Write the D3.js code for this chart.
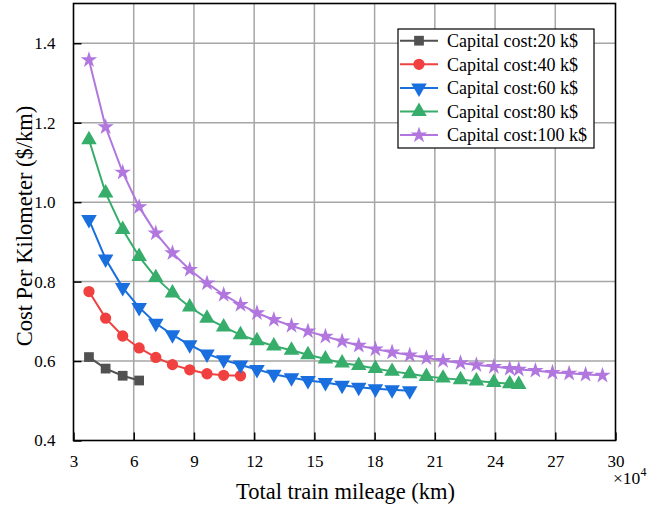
<!DOCTYPE html>
<html>
<head>
<meta charset="utf-8">
<script src="https://cdn.jsdelivr.net/npm/d3@7"></script>
<style>
  html, body { margin: 0; padding: 0; background: #fff; }
  svg { display: block; }
</style>
</head>
<body>
<svg id="chart" width="662" height="508"></svg>
<script>
// Total train mileage (×10^4 km), shared by all series
const mileage = [3.77, 4.60, 5.45, 6.27, 7.10, 7.93, 8.79, 9.65, 10.48, 11.32,
  12.14, 12.98, 13.86, 14.68, 15.55, 16.38, 17.21, 18.04, 18.87, 19.75,
  20.58, 21.41, 22.28, 23.07, 23.94, 24.73, 25.18, 26.01, 26.86, 27.69, 28.51, 29.35];

// Cost per kilometer ($/km) for each capital cost level
const cost20 = [0.610, 0.581, 0.563, 0.551];
const cost40 = [0.775, 0.708, 0.663, 0.633, 0.609, 0.591, 0.578, 0.568, 0.564, 0.563];
const cost60 = [0.956, 0.857, 0.785, 0.735, 0.695, 0.666, 0.641, 0.618, 0.603, 0.590,
  0.579, 0.567, 0.558, 0.551, 0.546, 0.539, 0.534, 0.530, 0.528, 0.525];
const cost80 = [1.157, 1.023, 0.931, 0.863, 0.810, 0.771, 0.736, 0.708, 0.686, 0.666,
  0.651, 0.638, 0.627, 0.616, 0.605, 0.595, 0.589, 0.581, 0.574, 0.568,
  0.561, 0.557, 0.553, 0.550, 0.546, 0.543, 0.541];
const cost100 = [1.358, 1.189, 1.075, 0.988, 0.922, 0.872, 0.830, 0.796, 0.767, 0.742,
  0.721, 0.704, 0.689, 0.675, 0.662, 0.650, 0.639, 0.630, 0.622, 0.615,
  0.608, 0.601, 0.595, 0.590, 0.586, 0.581, 0.579, 0.576, 0.571, 0.569, 0.566, 0.564];

const seriesNames = ["Capital cost:20 k$", "Capital cost:40 k$", "Capital cost:60 k$",
  "Capital cost:80 k$", "Capital cost:100 k$"];
const seriesValues = [cost20, cost40, cost60, cost80, cost100];
const seriesColors = ["#515151", "#F14040", "#1A6FDF", "#37AD6B", "#B177DE"];

const xTicks = [3, 6, 9, 12, 15, 18, 21, 24, 27, 30];
const yTicks = [0.4, 0.6, 0.8, 1.0, 1.2, 1.4];

const FONT = "'Liberation Serif', 'Times New Roman', 'DejaVu Serif', serif";

const margin = { left: 73.5, right: 46.5, top: 3.5, bottom: 67.5 };
const W = 662, H = 508;
const iw = W - margin.left - margin.right;
const ih = H - margin.top - margin.bottom;

const svg = d3.select("#chart");
const g = svg.append("g").attr("transform", `translate(${margin.left},${margin.top})`);

const x = d3.scaleLinear().domain([3, 30]).range([0, iw]);
const y = d3.scaleLinear().domain([0.4, 1.5]).range([ih, 0]);

// grid
g.append("g").selectAll("line").data(xTicks.slice(1, -1)).join("line")
  .attr("x1", d => x(d)).attr("x2", d => x(d)).attr("y1", 0).attr("y2", ih)
  .attr("stroke", "#a6a6a6").attr("stroke-width", 1.5);
g.append("g").selectAll("line").data(yTicks.slice(1)).join("line")
  .attr("x1", 0).attr("x2", iw).attr("y1", d => y(d)).attr("y2", d => y(d))
  .attr("stroke", "#a6a6a6").attr("stroke-width", 1.5);

// axes (ticks point inward)
const xAxis = g.append("g").attr("transform", `translate(0,${ih})`)
  .call(d3.axisBottom(x).tickValues(xTicks).tickSizeInner(-8).tickSizeOuter(0).tickPadding(14).tickFormat(d3.format("d")));
const yAxis = g.append("g")
  .call(d3.axisLeft(y).tickValues(yTicks).tickSizeInner(-8).tickSizeOuter(0).tickPadding(18).tickFormat(d3.format(".1f")));
[xAxis, yAxis].forEach(a => {
  a.attr("font-family", FONT).attr("font-size", 17);
  a.select(".domain").remove();
  a.selectAll(".tick line").attr("stroke", "#000").attr("stroke-width", 1.5);
  a.selectAll(".tick text").attr("fill", "#000");
});

// frame
g.append("rect").attr("x", 0).attr("y", 0).attr("width", iw).attr("height", ih)
  .attr("fill", "none").attr("stroke", "#000").attr("stroke-width", 1.6);

// series
const symbols = [
  { type: d3.symbolSquare, size: 95, rot: 0 },
  { type: d3.symbolCircle, size: 100, rot: 0 },
  { type: d3.symbolTriangle, size: 105, rot: 180 },
  { type: d3.symbolTriangle, size: 105, rot: 0 },
  { type: d3.symbolStar, size: 85, rot: 0 }
];
const line = d3.line().x(d => x(d[0])).y(d => y(d[1]));

seriesValues.forEach((vals, i) => {
  const pts = vals.map((v, j) => [mileage[j], v]);
  const sg = g.append("g");
  sg.append("path").datum(pts).attr("d", line)
    .attr("fill", "none").attr("stroke", seriesColors[i]).attr("stroke-width", 2);
  const sym = d3.symbol().type(symbols[i].type).size(symbols[i].size);
  sg.selectAll("path.m").data(pts).join("path").attr("class", "m")
    .attr("d", sym)
    .attr("transform", d => `translate(${x(d[0])},${y(d[1])}) rotate(${symbols[i].rot})`)
    .attr("fill", seriesColors[i]);
});

// legend
const lg = svg.append("g").attr("transform", "translate(398,29)");
lg.append("rect").attr("x", 0).attr("y", 0).attr("width", 196).attr("height", 119)
  .attr("fill", "#fff").attr("stroke", "#000").attr("stroke-width", 1.2);
seriesNames.forEach((name, i) => {
  const cy = 11.7 + i * 23.6;
  lg.append("line").attr("x1", 2).attr("x2", 40).attr("y1", cy).attr("y2", cy)
    .attr("stroke", seriesColors[i]).attr("stroke-width", 2);
  lg.append("path").attr("d", d3.symbol().type(symbols[i].type).size(symbols[i].size)())
    .attr("transform", `translate(21,${cy}) rotate(${symbols[i].rot})`)
    .attr("fill", seriesColors[i]);
  lg.append("text").attr("x", 49).attr("y", cy).attr("dy", "0.35em")
    .attr("font-family", FONT).attr("font-size", 18).attr("fill", "#000").text(name);
});

// axis titles
svg.append("text").attr("x", margin.left + iw / 2 + 1).attr("y", 499)
  .attr("text-anchor", "middle").attr("font-family", FONT).attr("font-size", 22.5)
  .attr("fill", "#000").text("Total train mileage (km)");
svg.append("text").attr("transform", `translate(32,${226}) rotate(-90)`)
  .attr("text-anchor", "middle").attr("font-family", FONT).attr("font-size", 22.5)
  .attr("fill", "#000").text("Cost Per Kilometer ($/km)");

// multiplier
const mult = svg.append("text").attr("x", 613).attr("y", 484)
  .attr("font-family", FONT).attr("font-size", 17.5).attr("fill", "#000");
mult.append("tspan").text("×10");
mult.append("tspan").attr("dy", -8).attr("font-size", 12).text("4");
</script>
</body>
</html>
